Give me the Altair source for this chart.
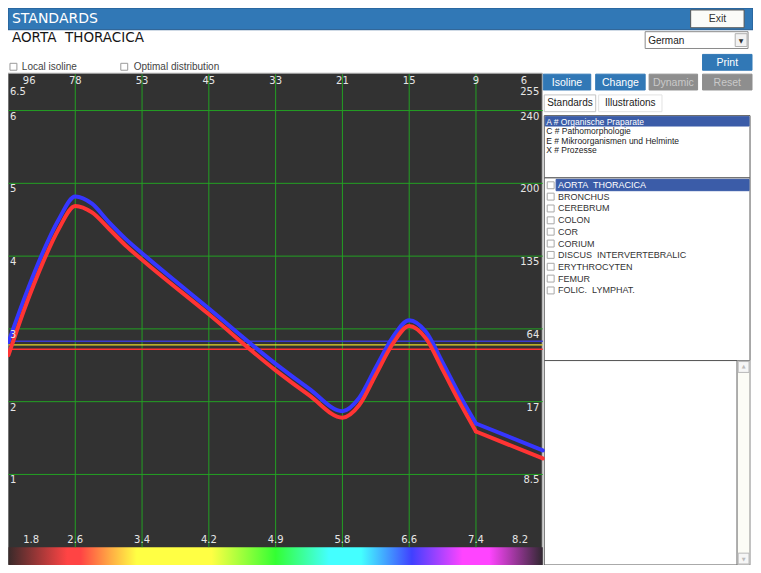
import altair as alt
import pandas as pd

# ---------------- chart values ----------------
top_labels = ["96", "78", "53", "45", "33", "21", "15", "9", "6"]
top_label_pos = [0.31, 1, 2, 3, 4, 5, 6, 7, 7.72]
bottom_labels = ["1.8", "2.6", "3.4", "4.2", "4.9", "5.8", "6.6", "7.4", "8.2"]
bottom_label_pos = [0.34, 1, 2, 3, 4, 5, 6, 7, 7.66]
left_labels = ["6", "5", "4", "3", "2", "1"]
right_labels = ["240", "200", "135", "64", "17", "8.5"]
grid_levels = [6, 5, 4, 3, 2, 1]
top_left_label, top_right_label, top_level = "6.5", "255", 6.5
grid_x = [1, 2, 3, 4, 5, 6, 7]

# smooth part of the curves (x 0..7) and the straight tail (x 7..8)
curve_x = [0, 0.25, 0.5, 0.75, 1, 1.25, 1.5, 1.75, 2, 3, 4, 4.5, 5,
           5.25, 5.5, 5.75, 6, 6.25, 6.5, 6.75, 7]
blue_y = [2.82, 3.45, 4.02, 4.50, 4.82, 4.72, 4.47, 4.24, 4.04, 3.28, 2.52, 2.18, 1.87,
          2.05, 2.47, 2.88, 3.12, 2.96, 2.54, 2.10, 1.70]
red_y = [2.64, 3.30, 3.88, 4.37, 4.69, 4.60, 4.38, 4.15, 3.95, 3.20, 2.43, 2.09, 1.78,
         1.95, 2.37, 2.79, 3.04, 2.87, 2.44, 2.00, 1.59]
tail_x = [7, 8]
blue_tail = [1.70, 1.33]
red_tail = [1.59, 1.22]
iso_blue, iso_yellow, iso_red = 2.83, 2.78, 2.72

NB = "\u00a0"
groups = ["A # Organische Praparate", "C # Pathomorphologie",
          "E # Mikroorganismen und Helminte", "X # Prozesse"]
standards = ["AORTA" + NB + " THORACICA", "BRONCHUS", "CEREBRUM", "COLON", "COR", "CORIUM",
             "DISCUS" + NB + " INTERVERTEBRALIC", "ERYTHROCYTEN", "FEMUR",
             "FOLIC." + NB + " LYMPHAT."]

# ---------------- layout helpers ----------------
W, H = 745, 557


def cx(v):
    return round((v - 4) * W / 753, 2)


def cy(v):
    return round((v - 7) * H / 564, 2)


BLUE_BTN = "#3178b6"
GRAY_BTN = "#8e8e8e"
SEL = "#3b5ca8"

rects = [
    (4, 7, 757, 29, BLUE_BTN, "#24598c"),
    (694, 9, 748, 27, "#fbfbf8", "#555555"),
    (648, 31, 752, 48, "#ffffff", "#8a8a8a"),
    (739, 33, 751, 46, "#f2f2f2", "#b0b0b0"),
    (6, 63, 13, 70, "#ffffff", "#9a9a9a"),
    (118, 63, 125, 70, "#ffffff", "#9a9a9a"),
    (706, 54, 756, 70, BLUE_BTN, BLUE_BTN),
    (4, 73, 544, 571, "#323232", "#b4b4b4"),
    (545, 74, 593, 90, BLUE_BTN, BLUE_BTN),
    (598, 74, 648, 90, BLUE_BTN, BLUE_BTN),
    (652, 74, 701, 90, GRAY_BTN, GRAY_BTN),
    (706, 74, 756, 90, GRAY_BTN, GRAY_BTN),
    (546, 95, 598, 112, "#ffffff", "#c4c4c4"),
    (601, 95, 665, 112, "#ffffff", "#e2e2e2"),
    (546, 116, 754, 179, "#ffffff", "#555555"),
    (547, 117, 753, 126.5, SEL, SEL),
    (546, 179, 754, 364, "#ffffff", "#555555"),
    (558, 180.5, 753, 192, SEL, SEL),
    (546, 364, 741, 571, "#ffffff", "#555555"),
    (741, 364, 754, 571, "#fcfcf6", "#8a8a8a"),
    (742, 365, 753, 376, "#f6f6f6", "#b8b8b8"),
    (742, 559, 753, 570, "#f6f6f6", "#b8b8b8"),
]
row_y2 = [186.5, 198, 210, 222, 233.5, 245.5, 257, 269, 281, 293]
for yy in row_y2:
    rects.append((549, yy - 3.5, 556, yy + 3.5, "#ffffff", "#a8a8a8"))

rect_df = pd.DataFrame(
    [{"x": cx(a), "y": cy(b), "x2": cx(c), "y2": cy(d), "fill": f, "stroke": s}
     for a, b, c, d, f, s in rects]
)
rect_layer = alt.Chart(rect_df).mark_rect(strokeWidth=1).encode(
    x=alt.X("x:Q", scale=None, axis=None), x2="x2:Q",
    y=alt.Y("y:Q", scale=None, axis=None), y2="y2:Q",
    fill=alt.Fill("fill:N", scale=None),
    stroke=alt.Stroke("stroke:N", scale=None),
)

SANS = "DejaVu Sans"
LIB = "Liberation Sans"
texts = [
    # x, y, text, size, color, align, font
    (8, 18.5, "STANDARDS", 14, "#ffffff", "left", SANS),
    (8, 37.5, "AORTA" + NB + " THORACICA", 13.5, "#151515", "left", SANS),
    (651, 40, "German", 10, "#222222", "left", LIB),
    (745, 40, "▼", 6, "#333333", "center", SANS),
    (18, 67, "Local isoline", 10, "#444444", "left", LIB),
    (131, 67, "Optimal distribution", 10, "#444444", "left", LIB),
    (721, 18.5, "Exit", 10.5, "#333333", "center", LIB),
    (731, 62.5, "Print", 10.5, "#ffffff", "center", LIB),
    (569, 82.5, "Isoline", 10.5, "#ffffff", "center", LIB),
    (623, 82.5, "Change", 10.5, "#ffffff", "center", LIB),
    (676.5, 82.5, "Dynamic", 10.5, "#c9c9c9", "center", LIB),
    (731, 82.5, "Reset", 10.5, "#c9c9c9", "center", LIB),
    (572, 103.5, "Standards", 10, "#222222", "center", LIB),
    (633, 103, "Illustrations", 10, "#222222", "center", LIB),
    (747.5, 370, "▲", 5, "#bdbdbd", "center", SANS),
    (747.5, 565, "▼", 5, "#bdbdbd", "center", SANS),
]
for i, g in enumerate(groups):
    texts.append((548, 122 + 9.6 * i, g, 8.5, "#ffffff" if i == 0 else "#222222", "left", LIB))
for i, s in enumerate(standards):
    texts.append((560, row_y2[i], s, 9, "#ffffff" if i == 0 else "#333333", "left", LIB))

text_df = pd.DataFrame(
    [{"x": cx(a), "y": cy(b), "t": t, "size": s, "color": c, "align": al, "font": f}
     for a, b, t, s, c, al, f in texts]
)
text_layers = []
for (al, f), sub in text_df.groupby(["align", "font"]):
    text_layers.append(
        alt.Chart(sub).mark_text(align=al, baseline="middle", font=f).encode(
            x=alt.X("x:Q", scale=None, axis=None),
            y=alt.Y("y:Q", scale=None, axis=None),
            text="t:N",
            size=alt.Size("size:Q", scale=None),
            color=alt.Color("color:N", scale=None),
        )
    )

# ---------------- plot with data scales ----------------
xs = alt.Scale(domain=[0, 8], range=[cx(4.5), cx(544.5)], nice=False, zero=False)
ys = alt.Scale(domain=[0, 6.5], range=[cy(553), cy(74)], nice=False, zero=False)

rainbow = alt.Chart(pd.DataFrame({"a": [0], "b": [8]})).mark_rect(
    fill=alt.Gradient(
        gradient="linear", x1=0, x2=1, y1=0, y2=0,
        stops=[
            alt.GradientStop(color="#3a2a2a", offset=0),
            alt.GradientStop(color="#ff4444", offset=0.11),
            alt.GradientStop(color="#ff4444", offset=0.135),
            alt.GradientStop(color="#ffaa44", offset=0.19),
            alt.GradientStop(color="#ffff44", offset=0.24),
            alt.GradientStop(color="#ffff44", offset=0.38),
            alt.GradientStop(color="#33ff33", offset=0.5),
            alt.GradientStop(color="#44ffff", offset=0.6),
            alt.GradientStop(color="#44ffff", offset=0.66),
            alt.GradientStop(color="#4040ff", offset=0.755),
            alt.GradientStop(color="#ff44ff", offset=0.85),
            alt.GradientStop(color="#ff44ff", offset=0.9),
            alt.GradientStop(color="#302830", offset=1),
        ],
    )
).encode(
    x=alt.X("a:Q", scale=xs, axis=None), x2="b:Q",
    y=alt.value(cy(553)), y2=alt.value(cy(571)),
)

GRID = "#23a023"
vgrid = alt.Chart(pd.DataFrame({"g": grid_x, "y0": 0, "y1": 6.5})).mark_rule(
    color=GRID, strokeWidth=1).encode(
    x=alt.X("g:Q", scale=xs, axis=None),
    y=alt.Y("y0:Q", scale=ys, axis=None), y2="y1:Q",
)
hgrid = alt.Chart(pd.DataFrame({"g": grid_levels, "x0": 0, "x1": 8})).mark_rule(
    color=GRID, strokeWidth=1).encode(
    y=alt.Y("g:Q", scale=ys, axis=None),
    x=alt.X("x0:Q", scale=xs, axis=None), x2="x1:Q",
)


def iso(level, color):
    return alt.Chart(pd.DataFrame({"v": [level], "x0": [0], "x1": [8]})).mark_rule(
        color=color, strokeWidth=1.3).encode(
        y=alt.Y("v:Q", scale=ys, axis=None),
        x=alt.X("x0:Q", scale=xs, axis=None), x2="x1:Q",
    )


def curve(xv, vals, color, interp):
    return alt.Chart(pd.DataFrame({"x": xv, "y": vals})).mark_line(
        color=color, strokeWidth=4, interpolate=interp, strokeCap="round",
        strokeJoin="round").encode(
        x=alt.X("x:Q", scale=xs, axis=None),
        y=alt.Y("y:Q", scale=ys, axis=None),
    )


LBL = "#e6e6e6"
FS = 10
top_lab = alt.Chart(pd.DataFrame({"p": top_label_pos, "t": top_labels})).mark_text(
    font=SANS, fontSize=FS, color=LBL, baseline="middle").encode(
    x=alt.X("p:Q", scale=xs, axis=None), y=alt.value(cy(80.5)), text="t:N")
bot_lab = alt.Chart(pd.DataFrame({"p": bottom_label_pos, "t": bottom_labels})).mark_text(
    font=SANS, fontSize=FS, color=LBL, baseline="middle").encode(
    x=alt.X("p:Q", scale=xs, axis=None), y=alt.value(cy(546)), text="t:N")
left_lab = alt.Chart(pd.DataFrame({"v": grid_levels, "t": left_labels})).mark_text(
    font=SANS, fontSize=FS, color=LBL, baseline="middle", align="left", dy=6).encode(
    x=alt.value(cx(6)), y=alt.Y("v:Q", scale=ys, axis=None), text="t:N")
right_lab = alt.Chart(pd.DataFrame({"v": grid_levels, "t": right_labels})).mark_text(
    font=SANS, fontSize=FS, color=LBL, baseline="middle", align="right", dy=6).encode(
    x=alt.value(cx(541)), y=alt.Y("v:Q", scale=ys, axis=None), text="t:N")
corner_left = alt.Chart(pd.DataFrame({"v": [top_level], "t": [top_left_label]})).mark_text(
    font=SANS, fontSize=FS, color=LBL, baseline="middle", align="left", dy=18).encode(
    x=alt.value(cx(6)), y=alt.Y("v:Q", scale=ys, axis=None), text="t:N")
corner_right = alt.Chart(pd.DataFrame({"v": [top_level], "t": [top_right_label]})).mark_text(
    font=SANS, fontSize=FS, color=LBL, baseline="middle", align="right", dy=18).encode(
    x=alt.value(cx(541)), y=alt.Y("v:Q", scale=ys, axis=None), text="t:N")

chart = alt.layer(
    rect_layer,
    rainbow,
    vgrid,
    hgrid,
    iso(iso_blue, "#3a3ad0"),
    iso(iso_yellow, "#e6d62a"),
    iso(iso_red, "#ff3333"),
    curve(curve_x, blue_y, "#3636ff", "monotone"),
    curve(tail_x, blue_tail, "#3636ff", "linear"),
    curve(curve_x, red_y, "#ff3434", "monotone"),
    curve(tail_x, red_tail, "#ff3434", "linear"),
    top_lab, bot_lab, left_lab, right_lab, corner_left, corner_right,
    *text_layers,
).resolve_scale(
    x="independent", y="independent", color="independent", size="independent",
    fill="independent", stroke="independent",
).properties(
    width=W, height=H, padding=0, background="white",
    autosize=alt.AutoSizeParams(type="none"),
).configure_view(strokeWidth=0)

chart.save("out.html", embed_options={"renderer": "svg", "actions": False})
